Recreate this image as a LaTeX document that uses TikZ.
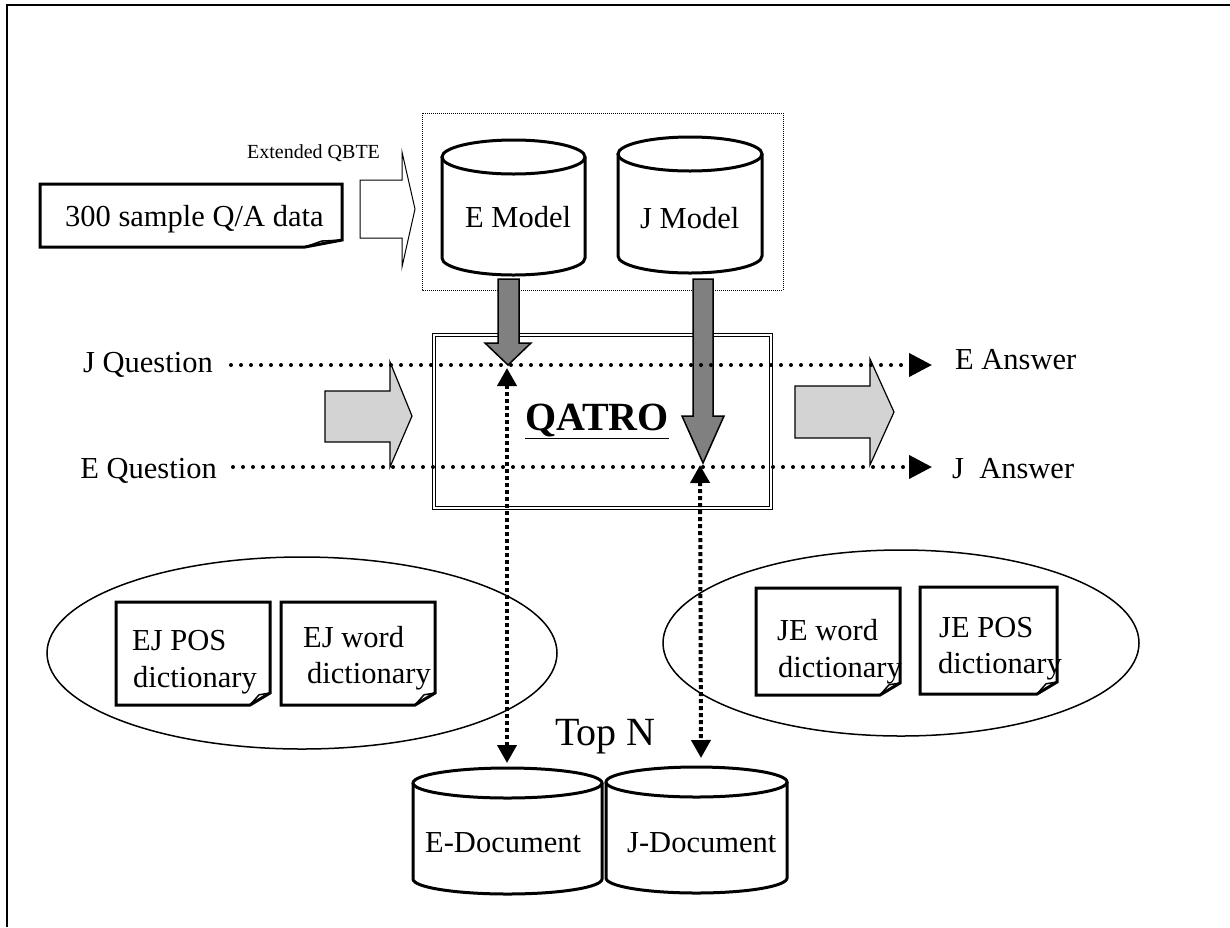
\documentclass[tikz,border=0pt]{standalone}
\usepackage{fontspec}
\setmainfont{Liberation Serif}
\usetikzlibrary{arrows.meta}
\definecolor{arrowgray}{HTML}{808080}
\definecolor{blockgray}{HTML}{D3D3D3}
\newcommand{\cylinderdraw}[5]{%
  \draw[cylline] (#1,#3) ellipse [x radius=#2pt, y radius=#5pt];
  \draw[cylline] (#1-#2,#3) -- (#1-#2,#4) arc[start angle=180, end angle=360, x radius=#2pt, y radius=#5pt] -- (#1+#2,#3);
}
\newcommand{\foldeddoc}[6]{%
  \draw[docline] (#1,#2) -- (#3,#2) -- (#3,#4-#6) -- (#3-#5,#4) -- (#1,#4) -- cycle;
  \draw[line width=1.5pt, line join=round] (#3-#5,#4) -- (#3-0.55*#5,#4-0.85*#6) -- (#3,#4-#6);
}
\begin{document}
\begin{tikzpicture}[x=1pt,y=-1pt,
  txt/.style={inner sep=0pt, font=\fontsize{30.5}{36}\selectfont},
  smalltxt/.style={inner sep=0pt, font=\fontsize{20}{24}\selectfont},
  docline/.style={line width=3pt, line join=miter},
  cylline/.style={line width=3pt},
  bigarrow/.style={fill=arrowgray, draw=black, line width=1.5pt, line join=miter},
  blockarrow/.style={fill=blockgray, draw=black, line width=1.2pt, line join=miter},
  hollowarrow/.style={fill=white, draw=black, line width=1pt, line join=miter},
  dotline/.style={line width=4pt, line cap=round, dash pattern=on 0pt off 10pt, -{Triangle[length=23pt,width=23pt]}},
  vdashline/.style={line width=4pt, dash pattern=on 4pt off 3pt, {Triangle[length=18pt,width=19pt]}-{Triangle[length=18pt,width=19pt]}},
  groupline/.style={line width=1.5pt}
]
\useasboundingbox (0,0) rectangle (1230,927);
% frame
\draw[line width=2pt] (7,927) -- (7,5) -- (1230,5);

% sample data
\foldeddoc{40}{184}{342}{247}{37}{7}
\node[txt, anchor=base west] (sample) at (65,226) {300 sample Q/A data};

% hollow arrow
\draw[hollowarrow] (360,180) -- (402,180) -- (402,152) -- (415,209) -- (402,267) -- (402,238) -- (360,238) -- cycle;
\node[smalltxt, anchor=base west] (qbte) at (247,158) {Extended QBTE};

% dotted model box
\draw[line width=1pt, dash pattern=on 1pt off 1pt] (422,113) rectangle (783,290);

% models
\cylinderdraw{513.5}{71.5}{157}{258}{17}
\node[txt, anchor=base west] (emodel) at (465,227) {E Model};
\cylinderdraw{690}{72}{154}{256}{17}
\node[txt, anchor=base west] (jmodel) at (640,228) {J Model};

% QATRO box
\node[draw, double, line width=1.2pt, double distance=2pt, minimum width=337pt, minimum height=173pt, inner sep=0pt] (qbox) at (602.5,421.5) {};

% block arrows
\draw[blockarrow] (325,391) -- (390,391) -- (390,362) -- (412,416) -- (390,467) -- (390,442) -- (325,442) -- cycle;
\draw[blockarrow] (795,386) -- (870,386) -- (870,359) -- (894,412) -- (870,465) -- (870,438) -- (795,438) -- cycle;

% gray model arrows
\draw[bigarrow] (498,279) -- (519,279) -- (519,343) -- (531,343) -- (508,365) -- (485,343) -- (498,343) -- cycle;
\draw[bigarrow] (693,279) -- (713,279) -- (713,416) -- (724,416) -- (703,463) -- (682,416) -- (693,416) -- cycle;

\node[anchor=base west, inner sep=0pt, font=\fontsize{40}{44}\selectfont\bfseries] (qatro) at (525,430) {\underline{QATRO}};

% questions / answers
\node[txt, anchor=base east] (jq) at (213,372) {J Question};
\node[txt, anchor=base east] (eq) at (217,478) {E Question};
\node[txt, anchor=base west] (ea) at (955,369) {E Answer};
\node[txt, anchor=base west] (ja) at (952,478) {J\ \ Answer};
\coordinate (jqs) at (231,365);
\coordinate (jqe) at (932,365);
\coordinate (eqs) at (233,467);
\coordinate (eqe) at (932,467);
\draw[dotline] (jqs) -- (jqe);
\draw[dotline] (eqs) -- (eqe);

% ellipses and dictionaries
\draw[groupline] (302,653) ellipse [x radius=255pt, y radius=96pt];
\draw[groupline] (901,643) ellipse [x radius=238pt, y radius=93pt];
\foldeddoc{116}{602}{270}{705}{20}{12}
\node[txt, anchor=base west] (ejpos1) at (132,650) {EJ POS};
\node[txt, anchor=base west] (ejpos2) at (133,687) {dictionary};
\foldeddoc{281}{602}{435}{705}{20}{12}
\node[txt, anchor=base west] (ejw1) at (303,647) {EJ word};
\node[txt, anchor=base west] (ejw2) at (307,683) {dictionary};
\foldeddoc{756}{588}{900}{695}{20}{12}
\node[txt, anchor=base west] (jew1) at (777,640) {JE word};
\node[txt, anchor=base west] (jew2) at (778,677) {dictionary};
\foldeddoc{920}{587}{1057}{694}{20}{12}
\node[txt, anchor=base west] (jep1) at (939,637) {JE POS};
\node[txt, anchor=base west] (jep2) at (938,673) {dictionary};

% documents
\cylinderdraw{507.5}{94.5}{783}{879}{15}
\node[txt, anchor=base west] (edoc) at (425,852) {E-Document};
\cylinderdraw{696.5}{90.5}{782}{878}{15}
\node[txt, anchor=base west] (jdoc) at (627,852) {J-Document};
\node[inner sep=0pt, anchor=base west, font=\fontsize{40}{46}\selectfont] (topn) at (555,745) {Top N};

% vertical retrieval arrows
\coordinate (lv1) at (507,368);
\coordinate (lv2) at (507,763);
\coordinate (rv1) at (700,465);
\coordinate (rv2) at (701,758);
\draw[vdashline] (lv1) -- (lv2);
\draw[vdashline] (rv1) -- (rv2);
\end{tikzpicture}
\end{document}
